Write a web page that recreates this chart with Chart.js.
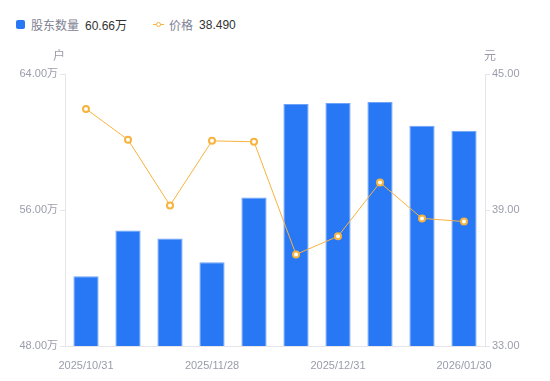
<!DOCTYPE html>
<html><head><meta charset="utf-8">
<script src="https://cdn.jsdelivr.net/npm/chart.js@4/dist/chart.umd.min.js"></script>
<style>
html,body{margin:0;padding:0;background:#fff;}
#wrap{position:relative;width:550px;height:381px;}
#legend{position:absolute;left:16px;top:16px;font-family:"Liberation Sans","Noto Sans CJK SC",sans-serif;font-size:12px;display:flex;align-items:center;white-space:nowrap;}
.item{display:flex;align-items:center;margin-right:26px;}
.sq{width:9px;height:9px;border-radius:2px;background:#2878F5;margin-right:6px;}
.ln{position:relative;width:11px;height:9px;margin-right:5px;}
.ln:before{content:"";position:absolute;left:0;right:0;top:4px;height:1px;background:#F7B33D;}
.ln:after{content:"";position:absolute;left:2.5px;top:1.5px;width:3px;height:3px;border:1.5px solid #F7B33D;border-radius:50%;background:#fff;}
.nm{color:#808294;margin-right:6px;}
.vl{color:#333;}
canvas{position:absolute;left:0;top:0;}
</style></head>
<body><div id="wrap">
<div id="legend"></div>
<canvas id="c" width="550" height="381"></canvas>
</div>
<script>
const categories = ["2025/10/31","2025/11/10","2025/11/20","2025/11/28","2025/12/10","2025/12/19","2025/12/31","2026/01/09","2026/01/20","2026/01/30"];
const holders = [52.10, 54.80, 54.33, 52.92, 56.73, 62.24, 62.30, 62.36, 60.95, 60.66]; // 万户
const prices = [43.46, 42.10, 39.20, 42.05, 42.01, 37.04, 37.84, 40.21, 38.63, 38.49]; // 元
const shownLabels = ["2025/10/31","2025/11/28","2025/12/31","2026/01/30"];
const leftTicks = [48, 56, 64];
const rightTicks = [33, 39, 45];
const seriesNames = ["股东数量", "价格"];
const units = ["户", "元"];

const FONT = '"Liberation Sans","Noto Sans CJK SC",sans-serif';
const TICK_COLOR = '#9a9cab';
const LINE_COLOR = '#e6e6ea';

document.getElementById('legend').innerHTML =
  '<div class="item"><span class="sq"></span><span class="nm">'+seriesNames[0]+'</span><span class="vl">'+holders[holders.length-1].toFixed(2)+'万</span></div>'+
  '<div class="item"><span class="ln"></span><span class="nm">'+seriesNames[1]+'</span><span class="vl">'+prices[prices.length-1].toFixed(3)+'</span></div>';

const unitPlugin = {
  id:'units',
  afterDraw(chart){
    const ctx = chart.ctx, a = chart.chartArea;
    ctx.save();
    ctx.font = '12px ' + FONT;
    ctx.fillStyle = TICK_COLOR;
    ctx.textAlign = 'center';
    ctx.textBaseline = 'middle';
    ctx.fillText(units[0], a.left - 6, 57);
    ctx.fillText(units[1], a.right + 5, 57);
    ctx.restore();
  }
};

new Chart(document.getElementById('c'), {
  data:{
    labels: categories,
    datasets:[
      {type:'line', label:seriesNames[1], data:prices, yAxisID:'y1', order:0,
       borderColor:'#F7B33D', borderWidth:1, pointRadius:3, pointBorderWidth:2,
       pointBackgroundColor:'#fff', pointBorderColor:'#F7B33D', tension:0},
      {type:'bar', label:seriesNames[0], data:holders, yAxisID:'y', order:1,
       backgroundColor:'#2878F5', borderColor:'#6FA3F7', borderWidth:{top:1,left:1,right:1,bottom:0},
       barPercentage:0.6, categoryPercentage:1.0}
    ]
  },
  options:{
    responsive:false, animation:false,
    layout:{padding:{left:0,right:0,top:74,bottom:0}},
    plugins:{legend:{display:false}, tooltip:{enabled:false}},
    scales:{
      x:{
        grid:{display:false},
        border:{display:true,color:LINE_COLOR},
        ticks:{autoSkip:false, maxRotation:0, color:TICK_COLOR, font:{size:11,family:FONT}, padding:5,
          callback:function(v,i){ const l=categories[i]; return shownLabels.includes(l)?l:''; }},
        afterFit(s){ s.height = 35; }
      },
      y:{
        position:'left', min:48, max:64,
        afterBuildTicks(s){ s.ticks = leftTicks.map(v=>({value:v})); },
        grid:{drawOnChartArea:false, color:LINE_COLOR, tickLength:5},
        border:{display:true,color:LINE_COLOR},
        ticks:{color:TICK_COLOR, font:{size:11,family:FONT}, padding:2,
          callback:v=>v.toFixed(2)+'万'},
        afterFit(s){ s.width = 65; }
      },
      y1:{
        position:'right', min:33, max:45,
        afterBuildTicks(s){ s.ticks = rightTicks.map(v=>({value:v})); },
        grid:{drawOnChartArea:false, color:LINE_COLOR, tickLength:5},
        border:{display:true,color:LINE_COLOR},
        ticks:{color:TICK_COLOR, font:{size:11,family:FONT}, padding:2,
          callback:v=>v.toFixed(2)},
        afterFit(s){ s.width = 65; }
      }
    }
  },
  plugins:[unitPlugin]
});
</script>
</body></html>
